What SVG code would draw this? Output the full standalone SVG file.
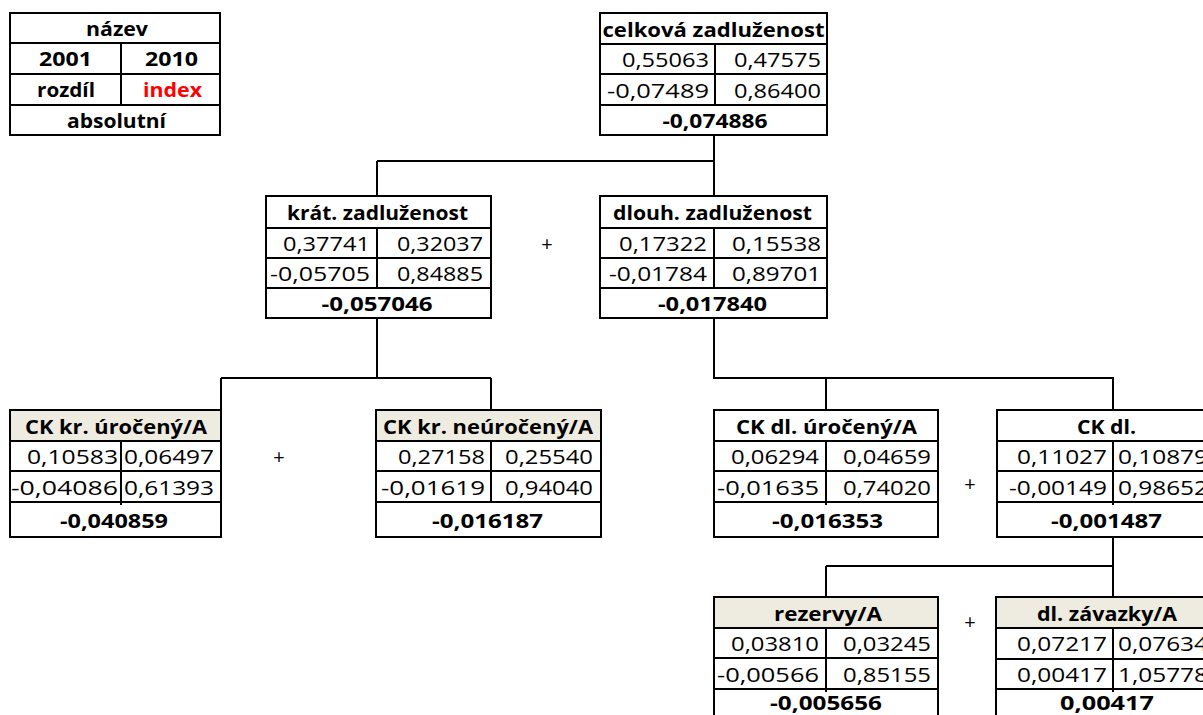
<svg xmlns="http://www.w3.org/2000/svg" width="1203" height="715" viewBox="0 0 1203 715">
<style>
  .bg{fill:#ffffff}
  .box{fill:none;stroke:#000;stroke-width:2}
  .hd{fill:#EEECE1;stroke:none}
  .ln{stroke:#000;stroke-width:2;fill:none}
  .con{stroke:#000;stroke-width:2;fill:none}
  text{font-family:"Open Sans","Liberation Sans",sans-serif;font-size:20px;fill:#000}
  .b{font-weight:bold}
  .c{text-anchor:middle}
  .e{text-anchor:end}
  .s{text-anchor:start}
  .red{fill:#FF0000}
</style>
<rect class="bg" x="0" y="0" width="1203" height="715"/>

<g id="connectors">
  <path class="con" d="M714,135 V196 M377,161 H714 M377,161 V196"/>
  <path class="con" d="M377,318 V378 M221,378 H491 M221,378 V410 M491,378 V410"/>
  <path class="con" d="M714,318 V378 H1113 V410 M826,378 V410"/>
  <path class="con" d="M1113,537 V566 M826,566 H1113 M826,566 V597 M1113,566 V597"/>
</g>

<g id="legend">
  <rect class="box" x="10" y="13" width="210" height="122"/>
  <path class="ln" d="M10,43 H220 M10,74 H220 M10,105 H220 M121,43 V105"/>
  <text class="b c" x="117" y="36" textLength="62" lengthAdjust="spacingAndGlyphs">název</text>
  <text class="b c" x="65.5" y="66" textLength="53" lengthAdjust="spacingAndGlyphs">2001</text>
  <text class="b c" x="171.5" y="66" textLength="53" lengthAdjust="spacingAndGlyphs">2010</text>
  <text class="b c" x="66" y="97" textLength="58" lengthAdjust="spacingAndGlyphs">rozdíl</text>
  <text class="b c red" x="172.5" y="97" textLength="59" lengthAdjust="spacingAndGlyphs">index</text>
  <text class="b c" x="116.5" y="128" textLength="99" lengthAdjust="spacingAndGlyphs">absolutní</text>
</g>

<g id="n-celkova">
  <rect class="box" x="600" y="13" width="227" height="122"/>
  <path class="ln" d="M600,44 H827 M600,74 H827 M600,105 H827 M715,44 V105"/>
  <text class="b c" x="713.5" y="36.5" textLength="222" lengthAdjust="spacingAndGlyphs">celková zadluženost</text>
  <text class="e" x="709" y="67" textLength="87" lengthAdjust="spacingAndGlyphs">0,55063</text>
  <text class="e" x="821" y="67" textLength="87" lengthAdjust="spacingAndGlyphs">0,47575</text>
  <text class="e" x="709" y="97.5" textLength="102" lengthAdjust="spacingAndGlyphs">-0,07489</text>
  <text class="e" x="821" y="97.5" textLength="87" lengthAdjust="spacingAndGlyphs">0,86400</text>
  <text class="b c" x="715" y="128" textLength="105" lengthAdjust="spacingAndGlyphs">-0,074886</text>
</g>

<g id="n-krat">
  <rect class="box" x="266" y="196" width="225" height="122"/>
  <path class="ln" d="M266,228 H491 M266,258 H491 M266,288 H491 M377,228 V288"/>
  <text class="b c" x="377.5" y="220" textLength="181" lengthAdjust="spacingAndGlyphs">krát. zadluženost</text>
  <text class="e" x="370" y="251" textLength="87" lengthAdjust="spacingAndGlyphs">0,37741</text>
  <text class="e" x="483" y="251" textLength="86" lengthAdjust="spacingAndGlyphs">0,32037</text>
  <text class="e" x="370" y="281" textLength="100" lengthAdjust="spacingAndGlyphs">-0,05705</text>
  <text class="e" x="483" y="281" textLength="86" lengthAdjust="spacingAndGlyphs">0,84885</text>
  <text class="b c" x="377" y="311" textLength="111" lengthAdjust="spacingAndGlyphs">-0,057046</text>
</g>

<text x="547" y="251" class="c">+</text>

<g id="n-dlouh">
  <rect class="box" x="600" y="196" width="227" height="122"/>
  <path class="ln" d="M600,228 H827 M600,258 H827 M600,288 H827 M714,228 V288"/>
  <text class="b c" x="712.5" y="220" textLength="199" lengthAdjust="spacingAndGlyphs">dlouh. zadluženost</text>
  <text class="e" x="707" y="251" textLength="88" lengthAdjust="spacingAndGlyphs">0,17322</text>
  <text class="e" x="821" y="251" textLength="89" lengthAdjust="spacingAndGlyphs">0,15538</text>
  <text class="e" x="707" y="281" textLength="98" lengthAdjust="spacingAndGlyphs">-0,01784</text>
  <text class="e" x="821" y="281" textLength="89" lengthAdjust="spacingAndGlyphs">0,89701</text>
  <text class="b c" x="712.5" y="311" textLength="109" lengthAdjust="spacingAndGlyphs">-0,017840</text>
</g>

<g id="n-ck-kr-uroceny">
  <rect class="hd" x="10" y="410" width="211" height="31"/>
  <rect class="box" x="10" y="410" width="211" height="127"/>
  <path class="ln" d="M10,441 H221 M10,471 H221 M10,502 H221 M121,441 V505"/>
  <text class="b c" x="116" y="433.5" textLength="182" lengthAdjust="spacingAndGlyphs">CK kr. úročený/A</text>
  <text class="e" x="118" y="464" textLength="91" lengthAdjust="spacingAndGlyphs">0,10583</text>
  <text class="e" x="214" y="464" textLength="90" lengthAdjust="spacingAndGlyphs">0,06497</text>
  <text class="e" x="118" y="494.5" textLength="107" lengthAdjust="spacingAndGlyphs">-0,04086</text>
  <text class="e" x="214" y="494.5" textLength="90" lengthAdjust="spacingAndGlyphs">0,61393</text>
  <text class="b c" x="114" y="527.5" textLength="108" lengthAdjust="spacingAndGlyphs">-0,040859</text>
</g>

<text x="279" y="464" class="c">+</text>

<g id="n-ck-kr-neuroceny">
  <rect class="hd" x="376" y="410" width="225" height="31"/>
  <rect class="box" x="376" y="410" width="225" height="127"/>
  <path class="ln" d="M376,441 H601 M376,471 H601 M376,502 H601 M491,441 V502"/>
  <text class="b c" x="488" y="433.5" textLength="210" lengthAdjust="spacingAndGlyphs">CK kr. neúročený/A</text>
  <text class="e" x="485" y="464" textLength="87" lengthAdjust="spacingAndGlyphs">0,27158</text>
  <text class="e" x="593" y="464" textLength="88" lengthAdjust="spacingAndGlyphs">0,25540</text>
  <text class="e" x="485" y="494.5" textLength="104" lengthAdjust="spacingAndGlyphs">-0,01619</text>
  <text class="e" x="593" y="494.5" textLength="88" lengthAdjust="spacingAndGlyphs">0,94040</text>
  <text class="b c" x="487.5" y="527.5" textLength="111" lengthAdjust="spacingAndGlyphs">-0,016187</text>
</g>

<g id="n-ck-dl-uroceny">
  <rect class="box" x="714" y="410" width="224" height="127"/>
  <path class="ln" d="M714,441 H938 M714,471 H938 M714,502 H938 M826,441 V505"/>
  <text class="b c" x="826.5" y="433.5" textLength="181" lengthAdjust="spacingAndGlyphs">CK dl. úročený/A</text>
  <text class="e" x="819" y="464" textLength="88" lengthAdjust="spacingAndGlyphs">0,06294</text>
  <text class="e" x="931" y="464" textLength="88" lengthAdjust="spacingAndGlyphs">0,04659</text>
  <text class="e" x="819" y="494.5" textLength="102" lengthAdjust="spacingAndGlyphs">-0,01635</text>
  <text class="e" x="931" y="494.5" textLength="88" lengthAdjust="spacingAndGlyphs">0,74020</text>
  <text class="b c" x="827.5" y="527.5" textLength="111" lengthAdjust="spacingAndGlyphs">-0,016353</text>
</g>

<text x="970" y="491" class="c">+</text>

<g id="n-ck-dl">
  <rect class="box" x="997" y="410" width="226" height="127"/>
  <path class="ln" d="M997,441 H1223 M997,471 H1223 M997,502 H1223 M1113,441 V505"/>
  <text class="b c" x="1106.5" y="433.5" textLength="59" lengthAdjust="spacingAndGlyphs">CK dl.</text>
  <text class="e" x="1107" y="464" textLength="90" lengthAdjust="spacingAndGlyphs">0,11027</text>
  <text class="s" x="1118" y="464" textLength="90" lengthAdjust="spacingAndGlyphs">0,10879</text>
  <text class="e" x="1107" y="494.5" textLength="98" lengthAdjust="spacingAndGlyphs">-0,00149</text>
  <text class="s" x="1118" y="494.5" textLength="90" lengthAdjust="spacingAndGlyphs">0,98652</text>
  <text class="b c" x="1106.5" y="527.5" textLength="111" lengthAdjust="spacingAndGlyphs">-0,001487</text>
</g>

<g id="n-rezervy">
  <rect class="hd" x="714" y="597" width="224" height="31"/>
  <rect class="box" x="714" y="597" width="224" height="127"/>
  <path class="ln" d="M714,628 H938 M714,658 H938 M714,689 H938 M826,628 V692"/>
  <text class="b c" x="828" y="620.5" textLength="108" lengthAdjust="spacingAndGlyphs">rezervy/A</text>
  <text class="e" x="819" y="651" textLength="88" lengthAdjust="spacingAndGlyphs">0,03810</text>
  <text class="e" x="931" y="651" textLength="88" lengthAdjust="spacingAndGlyphs">0,03245</text>
  <text class="e" x="819" y="681.5" textLength="102" lengthAdjust="spacingAndGlyphs">-0,00566</text>
  <text class="e" x="931" y="681.5" textLength="88" lengthAdjust="spacingAndGlyphs">0,85155</text>
  <text class="b c" x="826" y="710" textLength="112" lengthAdjust="spacingAndGlyphs">-0,005656</text>
</g>

<text x="970" y="629" class="c">+</text>

<g id="n-dl-zavazky">
  <rect class="hd" x="996" y="597" width="227" height="31"/>
  <rect class="box" x="996" y="597" width="227" height="127"/>
  <path class="ln" d="M996,628 H1223 M996,659 H1223 M996,689 H1223 M1113,628 V692"/>
  <text class="b c" x="1107" y="620.5" textLength="140" lengthAdjust="spacingAndGlyphs">dl. závazky/A</text>
  <text class="e" x="1107" y="651" textLength="90" lengthAdjust="spacingAndGlyphs">0,07217</text>
  <text class="s" x="1118" y="651" textLength="90" lengthAdjust="spacingAndGlyphs">0,07634</text>
  <text class="e" x="1107" y="681.5" textLength="90" lengthAdjust="spacingAndGlyphs">0,00417</text>
  <text class="s" x="1118" y="681.5" textLength="90" lengthAdjust="spacingAndGlyphs">1,05778</text>
  <text class="b c" x="1107" y="710" textLength="94" lengthAdjust="spacingAndGlyphs">0,00417</text>
</g>
</svg>
